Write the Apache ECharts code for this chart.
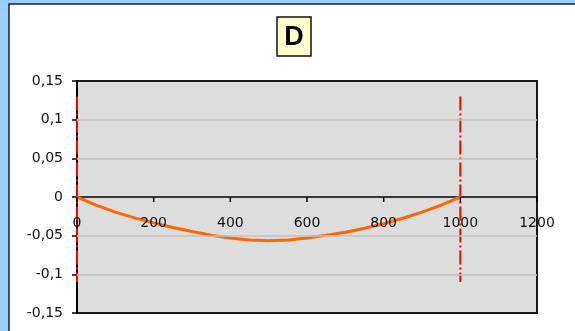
<!DOCTYPE html>
<html>
<head>
<meta charset="utf-8">
<script src="https://cdn.jsdelivr.net/npm/echarts@6/dist/echarts.min.js"></script>
<style>
  html, body { margin: 0; padding: 0; background: #99CCFF; overflow: hidden; }
  #chart { width: 575px; height: 331px; }
</style>
</head>
<body>
<div id="chart"></div>
<script>
// Beam deflection along the span (position in mm, deflection)
const positions = [0, 50, 100, 150, 200, 250, 300, 350, 400, 450, 500,
                   550, 600, 650, 700, 750, 800, 850, 900, 950, 1000];
const deflection = [0, -0.0105, -0.0195, -0.027, -0.0335, -0.0395, -0.0445, -0.0495, -0.053, -0.0555, -0.0565,
                    -0.0555, -0.053, -0.0495, -0.0455, -0.0405, -0.0345, -0.0275, -0.0195, -0.0105, 0];

// Support markers (vertical dash-dot lines)
const supports = [0, 1000];
const markerTop = 0.13;
const markerBottom = -0.11;

// Axis ticks and their labels
const xTicks = [0, 200, 400, 600, 800, 1000, 1200];
const xTickLabels = ['0', '200', '400', '600', '800', '1000', '1200'];
const yTicks = [-0.15, -0.1, -0.05, 0, 0.05, 0.1, 0.15];
const yTickLabels = ['-0,15', '-0,1', '-0,05', '0', '0,05', '0,1', '0,15'];
// horizontal gridlines (zero carries the horizontal axis itself)
const yGridLines = [-0.1, -0.05, 0.05, 0.1];

const titleText = 'D';

const chart = echarts.init(document.getElementById('chart'), null, { renderer: 'canvas' });

const font = 'DejaVu Sans';
const yMin = yTicks[0], yMax = yTicks[yTicks.length - 1];
const xMin = xTicks[0], xMax = xTicks[xTicks.length - 1];

function yLabel(v) {
  let best = 0, bestD = Infinity;
  yTicks.forEach((t, i) => {
    const d = Math.abs(t - v);
    if (d < bestD) { bestD = d; best = i; }
  });
  return yTickLabels[best];
}

const supportSeries = supports.map(x => ({
  type: 'line',
  data: [[x, markerTop], [x, markerBottom]],
  symbol: 'none',
  silent: true,
  lineStyle: { color: '#FF0000', width: 2, type: [14, 3, 2, 3] },
  z: 3
}));

chart.setOption({
  backgroundColor: '#99CCFF',
  animation: false,
  graphic: [
    {
      type: 'rect',
      shape: { x: 9, y: 4, width: 700, height: 400 },
      style: { fill: '#FFFFFF', stroke: '#222222', lineWidth: 1.5 },
      z: -10
    },
    {
      type: 'rect',
      shape: { x: 277, y: 17, width: 34, height: 39 },
      style: { fill: '#FFFFCC', stroke: '#111111', lineWidth: 1.5 },
      z: 10
    },
    {
      type: 'text',
      x: 294, y: 37.5,
      style: {
        text: titleText,
        font: 'bold 27px "Liberation Sans"',
        fill: '#000000',
        textAlign: 'center',
        textVerticalAlign: 'middle'
      },
      z: 11
    }
  ],
  grid: {
    left: 77, right: 38, top: 81, bottom: 18,
    containLabel: false,
    show: true,
    backgroundColor: '#DDDDDD',
    borderColor: '#1A1A1A',
    borderWidth: 2
  },
  xAxis: {
    type: 'value',
    min: xMin,
    max: xMax,
    interval: 200,
    axisLine: { show: false },
    axisTick: { show: false },
    axisLabel: { show: false },
    splitLine: { show: false }
  },
  yAxis: {
    type: 'value',
    min: yMin,
    max: yMax,
    interval: 0.05,
    axisLine: { show: true, onZero: false, lineStyle: { color: '#000000', width: 1.5 } },
    axisTick: { show: true, inside: false, length: 5, lineStyle: { color: '#000000', width: 1.5 } },
    axisLabel: {
      margin: 14,
      fontFamily: font,
      fontSize: 14,
      color: '#111111',
      formatter: v => yLabel(v)
    },
    splitLine: { show: false }
  },
  series: [
    {
      // horizontal gridlines
      type: 'line',
      data: [],
      silent: true,
      z: 1,
      markLine: {
        silent: true,
        symbol: 'none',
        label: { show: false },
        lineStyle: { color: '#C0C0C0', width: 1.5, type: 'solid' },
        data: yGridLines.map(v => ({ yAxis: v }))
      }
    },
    {
      // horizontal axis line through y = 0
      type: 'line',
      silent: true,
      z: 3,
      symbol: 'none',
      data: [[xMin, 0], [xMax, 0]],
      lineStyle: { color: '#000000', width: 1.5 }
    },
    {
      // tick marks and labels of the horizontal axis
      type: 'custom',
      silent: true,
      z: 5,
      data: xTicks.map((x, i) => [x, i]),
      encode: { x: 0 },
      renderItem: (params, api) => {
        const p = api.coord([api.value(0), 0]);
        const label = xTickLabels[api.value(1)];
        return {
          type: 'group',
          children: [
            {
              type: 'line',
              shape: { x1: p[0], y1: p[1], x2: p[0], y2: p[1] + 5 },
              style: { stroke: '#000000', lineWidth: 1.5 }
            },
            {
              type: 'text',
              x: p[0], y: p[1] + 26,
              style: {
                text: label,
                fontFamily: font,
                fontSize: 14,
                fill: '#111111',
                align: 'center',
                verticalAlign: 'middle'
              }
            }
          ]
        };
      }
    },
    ...supportSeries,
    {
      type: 'line',
      data: positions.map((x, i) => [x, deflection[i]]),
      symbol: 'none',
      smooth: false,
      lineStyle: { color: '#FF6600', width: 3 },
      z: 4
    }
  ]
});
</script>
</body>
</html>
